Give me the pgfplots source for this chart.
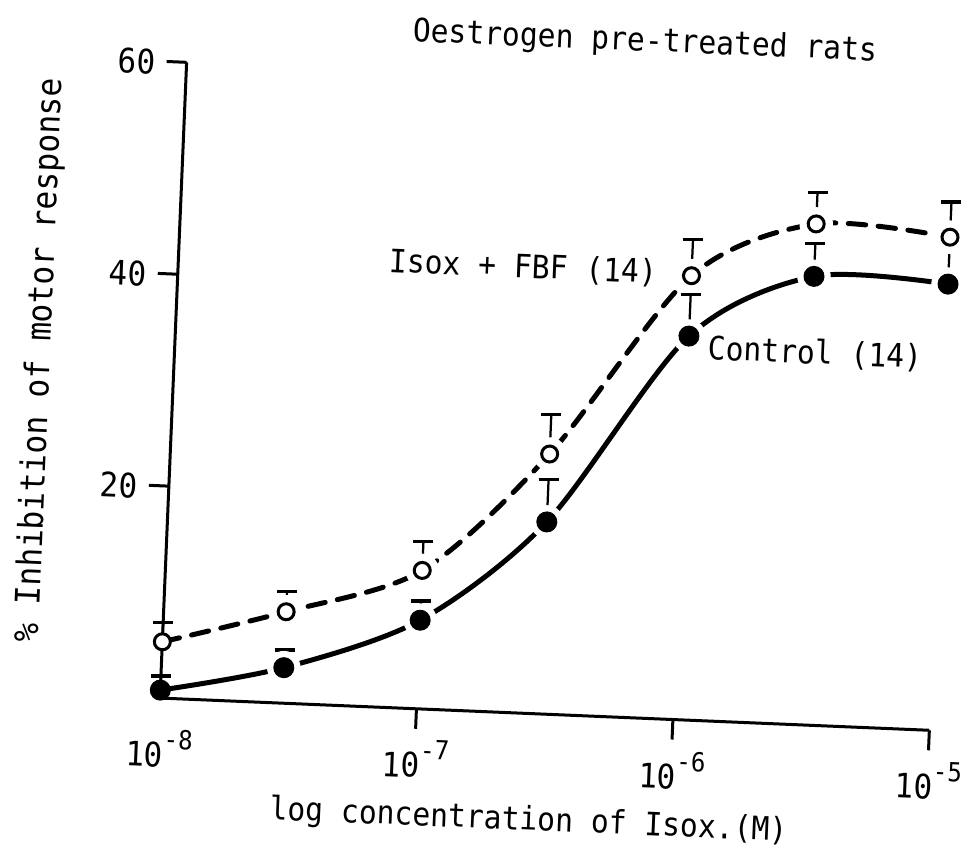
\documentclass[border=0pt]{standalone}
\usepackage{fontspec}
\setmainfont[FakeStretch=0.92]{DejaVu Sans Mono}
\usepackage{pgfplots}
\usepackage{pgfplotstable}
\pgfplotsset{compat=1.18}

% x = decades above 1e-8 M (log concentration + 8)
% Control (14): mean and upper error
\pgfplotstableread{
x      y      e
0      0.75   1.34
0.477  3.35   1.66
1      8.36   1.82
1.477  18.12  3.98
2      36.19  3.95
2.477  42.31  3.10
3      42.11  4.40
}\control

% Isox + FBF (14)
\pgfplotstableread{
x      y      e
0      5.31   1.80
0.477  8.63   1.94
1      13.06  2.73
1.477  24.53  3.70
2      41.89  3.42
2.477  47.26  2.94
3      46.54  3.32
}\fbf

\newcommand{\dec}[1]{10\raisebox{1.0ex}{\fontsize{10.5}{10}\selectfont -#1}}
\def\tilt{-2.4}

\begin{document}
\fontsize{12.9}{15}\selectfont
\begin{tikzpicture}
\begin{axis}[
    rotate around={\tilt:(0,0)},
    scale only axis,
    width=308pt, height=254.5pt,
    xmin=0, xmax=3,
    ymin=0, ymax=60,
    clip=false,
    axis x line*=bottom,
    axis y line*=left,
    axis line style={line width=1.2pt, -},
    tick align=outside,
    major tick length=8pt,
    tick style={line width=1.2pt, black},
    xtick={1,2,3},
    xticklabels={\dec{7},\dec{6},\dec{5}},
    extra x ticks={0},
    extra x tick labels={\dec{8}},
    extra x tick style={tick style={draw=none}},
    ytick={20,40,60},
    yticklabels={20,40,60},
    tick label style={font=\fontsize{13.5}{15}\selectfont, rotate=\tilt},
    xticklabel style={inner xsep=0pt},
    xlabel={log concentration of Isox.(M)},
    xlabel style={at={(axis description cs:0.469,-0.113)}, anchor=center, rotate=\tilt,
        inner ysep=0pt},
    ylabel={\% Inhibition of motor response},
    ylabel style={at={(axis description cs:-0.168,0.546)}, anchor=center, rotate=\tilt,
        inner ysep=0pt, font=\fontsize{13.6}{15}\selectfont},
    title={Oestrogen pre-treated rats},
    title style={at={(axis description cs:0.575,1.037)}, anchor=center, yshift=0pt,
        inner ysep=0pt, rotate=\tilt},
]
% corners of the original page (used for the bounding box below)
\coordinate (c1) at (axis cs:-0.7366,65.13);
\coordinate (c2) at (axis cs:3.0236,68.95);
\coordinate (c3) at (axis cs:3.1624,-11.23);
\coordinate (c4) at (axis cs:-0.5978,-15.05);
% fitted curves
\addplot[black, line width=2pt, smooth, line cap=round] table[x=x, y=y] {\control};
\addplot[black, line width=2pt, smooth, line cap=round, dash pattern=on 7pt off 5pt] table[x=x, y=y] {\fbf};
% white gaps where the curves stop short of the symbols
\addplot[only marks, mark=*, mark size=6.5pt, white, skip coords between index={0}{1}] table[x=x, y=y] {\control};
\addplot[only marks, mark=*, mark size=6.5pt, white, skip coords between index={0}{1}] table[x=x, y=y] {\fbf};
% symbols with upper SEM bars
\addplot[only marks, mark=*, mark size=4pt, black,
    error bars/.cd, y dir=plus, y explicit,
    error bar style={draw=black, solid, line width=0.9pt},
    error mark options={draw=black, solid, rotate=90, line width=1.3pt, mark size=4pt}]
    table[x=x, y=y, y error=e] {\control};
\addplot[only marks, mark=*, mark size=3.2pt, black, mark options={fill=white, line width=1.2pt},
    error bars/.cd, y dir=plus, y explicit,
    error bar style={draw=black, solid, line width=0.9pt},
    error mark options={draw=black, solid, rotate=90, line width=1.3pt, mark size=4pt}]
    table[x=x, y=y, y error=e] {\fbf};
\node[rotate=\tilt] at (axis description cs:0.433,0.715) {Isox + FBF (14)};
\node[rotate=\tilt] at (axis description cs:0.804,0.6045) {Control (14)};
\end{axis}
\pgfresetboundingbox
\path[use as bounding box] (c1) -- (c2) -- (c3) -- (c4) -- cycle;
\end{tikzpicture}
\end{document}
